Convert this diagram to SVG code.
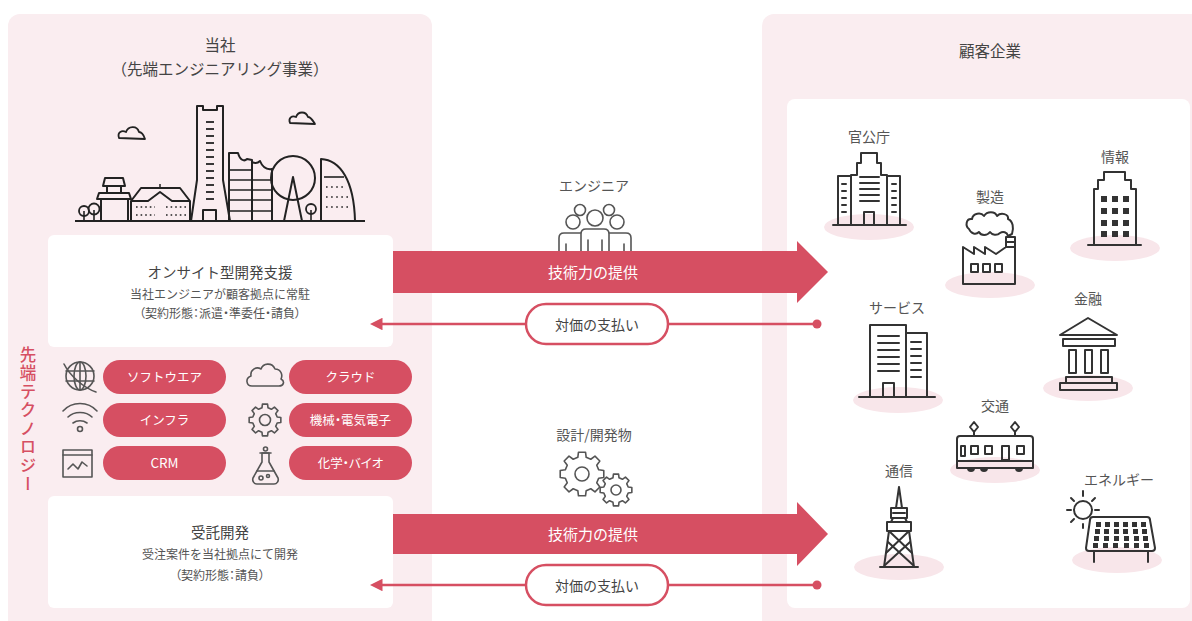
<svg xmlns="http://www.w3.org/2000/svg" xmlns:xlink="http://www.w3.org/1999/xlink" width="1192" height="621" viewBox="0 0 1192 621">
  <style>
    .jp { font-family: "Noto Sans CJK JP", "Noto Sans", sans-serif; }
    .title { font-size: 15.5px; fill: #444; text-anchor: middle; }
    .sub { font-size: 12px; fill: #555; text-anchor: middle; }
    .palt { font-feature-settings: "palt"; }
    .lbl { font-size: 14px; fill: #555; text-anchor: middle; }
    .wt { font-size: 15px; fill: #fff; text-anchor: middle; }
    .pilltx { font-size: 12.5px; fill: #fff; text-anchor: middle; }
    .pill { fill: #d64f62; }
    .ico { fill: none; stroke: #333; stroke-width: 2; stroke-linejoin: round; stroke-linecap: round; }
    .ico-g { fill: none; stroke: #555; stroke-width: 1.6; stroke-linejoin: round; stroke-linecap: round; }
    .city { fill: none; stroke: #222; stroke-width: 2; stroke-linejoin: round; }
    .blob { fill: #f8e6ea; }
    .panel { fill: #faedf0; }
    .card { fill: #ffffff; }
    .gear { vector-effect: non-scaling-stroke; }
  </style>
  <defs>
    <polygon id="gearShape" class="gear" points="76,-19 99,-16 99,16 76,19 67,40 81,59 59,81 40,67 19,76 16,99 -16,99 -19,76 -40,67 -59,81 -81,59 -67,40 -76,19 -99,16 -99,-16 -76,-19 -67,-40 -81,-59 -59,-81 -40,-67 -19,-76 -16,-99 16,-99 19,-76 40,-67 59,-81 81,-59 67,-40"/>
    <marker id="arrowL" viewBox="0 0 10 10" refX="2" refY="5" markerWidth="5" markerHeight="5" orient="auto-start-reverse" markerUnits="strokeWidth">
      <path d="M0,0 L10,5 L0,10 Z" fill="#d64f62"/>
    </marker>
  </defs>

  <rect width="1192" height="621" fill="#ffffff"/>

  <!-- company side panel -->
  <g id="company">
    <rect class="panel" x="8" y="14" width="424" height="620" rx="12"/>
    <text class="jp title" x="220" y="51">当社</text>
    <text class="jp title" x="220" y="75">（先端エンジニアリング事業）</text>

    <!-- skyline -->
    <g id="skyline" class="city">
      <line x1="75" y1="221" x2="365" y2="221"/>
      <!-- trees -->
      <circle cx="84" cy="211" r="5" stroke-width="1.8"/>
      <circle cx="94" cy="209" r="5.5" stroke-width="1.8"/>
      <line x1="84" y1="211" x2="84" y2="221" stroke-width="1.6"/>
      <line x1="94" y1="210" x2="94" y2="221" stroke-width="1.6"/>
      <!-- pagoda-style house -->
      <rect x="101" y="199" width="27" height="22"/>
      <path d="M97,199 L99,193 L129,193 L131,199 Z"/>
      <rect x="107" y="186" width="14" height="7"/>
      <path d="M103,186 L105,178 L123,178 L125,186 Z"/>
      <!-- hall with gable -->
      <path d="M131,221 L131,201 L141,188 L180,188 L190,201 L190,221"/>
      <path d="M131,201 L148,201 L160,192 L172,201 L190,201"/>
      <line x1="160" y1="188" x2="160" y2="184" stroke-width="1.5"/>
      <g stroke-width="1.6" stroke-dasharray="1.6 3">
        <line x1="136" y1="207" x2="155" y2="207"/>
        <line x1="136" y1="215" x2="155" y2="215"/>
        <line x1="166" y1="207" x2="186" y2="207"/>
        <line x1="166" y1="215" x2="186" y2="215"/>
      </g>
      <!-- landmark tower -->
      <path d="M191,221 L197,180 L197,106 L203,106 L203,110 L217,110 L217,106 L223,106 L223,180 L230,221"/>
      <g stroke-width="1.8">
        <line x1="206" y1="122" x2="214" y2="122"/>
        <line x1="206" y1="129" x2="214" y2="129"/>
        <line x1="206" y1="136" x2="214" y2="136"/>
        <line x1="206" y1="143" x2="214" y2="143"/>
        <line x1="206" y1="150" x2="214" y2="150"/>
        <line x1="206" y1="157" x2="214" y2="157"/>
        <line x1="206" y1="164" x2="214" y2="164"/>
        <line x1="206" y1="171" x2="214" y2="171"/>
        <line x1="206" y1="178" x2="214" y2="178"/>
        <line x1="206" y1="185" x2="214" y2="185"/>
        <line x1="206" y1="192" x2="214" y2="192"/>
        <line x1="206" y1="199" x2="214" y2="199"/>
      </g>
      <rect x="203" y="210" width="13" height="11"/>
      <!-- stepped block -->
      <path d="M229,221 L229,153 L238,153 C240,160 244,162 247,159 L252,160 L252,162 C256,164 258,163 260,161 C262,166 266,170 272,169 L272,221"/>
      <line x1="252" y1="162" x2="252" y2="221"/>
      <g stroke-width="1.6">
        <line x1="229" y1="170" x2="252" y2="170"/>
        <line x1="229" y1="180" x2="272" y2="180"/>
        <line x1="229" y1="190" x2="272" y2="190"/>
        <line x1="229" y1="200" x2="272" y2="200"/>
        <line x1="229" y1="211" x2="272" y2="211"/>
      </g>
      <!-- ferris wheel -->
      <circle cx="293" cy="178" r="22"/>
      <path d="M284,221 L293,177 L302,221"/>
      <!-- small tree -->
      <circle cx="311" cy="209" r="5" stroke-width="1.8"/>
      <line x1="311" y1="210" x2="311" y2="221" stroke-width="1.6"/>
      <!-- sail building -->
      <path d="M321,221 L321,159 C340,160 354,180 355,221"/>
      <line x1="324" y1="177" x2="344" y2="177" stroke-width="1.6"/>
      <g stroke-width="1.6" stroke-dasharray="1.6 3.5">
        <line x1="326" y1="187" x2="346" y2="187"/>
        <line x1="326" y1="197" x2="350" y2="197"/>
        <line x1="326" y1="207" x2="350" y2="207"/>
      </g>
      <!-- clouds -->
      <path d="M119,138 C117,132 122,130 126,132 C128,126 137,125 139,132 C142,132 144,136 145,139 Z" stroke-width="1.8"/>
      <path d="M290,123 C288,118 292,115 296,117 C298,111 306,111 308,117 C311,117 313,121 315,124 Z" stroke-width="1.8"/>
    </g>

    <!-- on-site card -->
    <g id="onsite">
      <rect class="card" x="48" y="235" width="345" height="112" rx="6"/>
      <text class="jp title" x="220" y="278" style="font-size:14.5px">オンサイト型開発支援</text>
      <text class="jp sub" x="220" y="299">当社エンジニアが顧客拠点に常駐</text>
      <text class="jp sub palt" x="220" y="318">（契約形態：派遣・準委任・請負）</text>
    </g>

    <!-- technology label -->
    <text class="jp" x="28" y="346" style="font-size:16.5px;font-weight:500;fill:#d64f62;writing-mode:vertical-rl;letter-spacing:2px">先端テクノロジー</text>

    <!-- technology pills -->
    <g id="tech-software">
      <circle class="ico-g" cx="80" cy="376" r="14"/>
      <ellipse class="ico-g" cx="80" cy="376" rx="6" ry="14"/>
      <line class="ico-g" x1="66" y1="371" x2="94" y2="371"/>
      <line class="ico-g" x1="66" y1="381" x2="94" y2="381"/>
      <line class="ico-g" x1="80" y1="362" x2="80" y2="390"/>
      <path class="ico-g" d="M64,364 C70,376 84,388 96,392"/>
      <rect class="pill" x="103" y="360" width="123" height="34" rx="17"/>
      <text class="jp pilltx" x="164.5" y="381.5">ソフトウエア</text>
    </g>
    <g id="tech-infra">
      <path class="ico-g" d="M63,411 C72,401 88,401 97,411"/>
      <path class="ico-g" d="M68,417 C74,411 86,411 92,417"/>
      <path class="ico-g" d="M73,423 C77,420 83,420 87,423"/>
      <circle class="ico-g" cx="80" cy="429" r="2.5"/>
      <rect class="pill" x="103" y="403" width="123" height="34" rx="17"/>
      <text class="jp pilltx" x="164.5" y="424.5">インフラ</text>
    </g>
    <g id="tech-crm">
      <rect class="ico-g" x="63" y="450" width="29" height="27"/>
      <line class="ico-g" x1="63" y1="455" x2="92" y2="455"/>
      <path class="ico-g" d="M68,469 L73,464 L78,469 L82,462 L87,466"/>
      <rect class="pill" x="103" y="446" width="123" height="34" rx="17"/>
      <text class="jp pilltx" x="164.5" y="467.5" style="font-size:13.5px">CRM</text>
    </g>
    <g id="tech-cloud">
      <path class="ico-g" d="M252,386 C246,386 245,378 251,376 C250,370 256,366 261,369 C263,363 272,362 275,369 C281,369 283,375 281,379 C285,381 284,386 279,386 Z"/>
      <rect class="pill" x="289" y="360" width="123" height="34" rx="17"/>
      <text class="jp pilltx" x="350.5" y="381.5">クラウド</text>
    </g>
    <g id="tech-machine">
      <use xlink:href="#gearShape" class="ico-g" transform="translate(265,420) scale(0.16)"/>
      <circle class="ico-g" cx="265" cy="420" r="5.5"/>
      <rect class="pill" x="289" y="403" width="123" height="34" rx="17"/>
      <text class="jp pilltx palt" x="350.5" y="424.5">機械・電気電子</text>
    </g>
    <g id="tech-bio">
      <path class="ico-g" d="M262,453 L262,462 L253,478 C252,481 254,484 257,484 L274,484 C277,484 279,481 278,478 L269,462 L269,453 Z"/>
      <line class="ico-g" x1="260" y1="453" x2="271" y2="453"/>
      <circle class="ico-g" cx="265.5" cy="449" r="2"/>
      <line class="ico-g" x1="257" y1="471" x2="274" y2="471"/>
      <circle class="ico-g" cx="261" cy="478" r="2"/>
      <circle class="ico-g" cx="268" cy="476" r="1.5"/>
      <rect class="pill" x="289" y="446" width="123" height="34" rx="17"/>
      <text class="jp pilltx palt" x="350.5" y="467.5">化学・バイオ</text>
    </g>

    <!-- contract development card -->
    <g id="contract">
      <rect class="card" x="48" y="496" width="345" height="112" rx="6"/>
      <text class="jp title" x="220" y="538" style="font-size:14.5px">受託開発</text>
      <text class="jp sub" x="220" y="559">受注案件を当社拠点にて開発</text>
      <text class="jp sub palt" x="220" y="580">（契約形態：請負）</text>
    </g>
  </g>

  <!-- client side panel -->
  <g id="clients">
    <rect class="panel" x="762" y="14" width="450" height="620" rx="12"/>
    <text class="jp title" x="990" y="57">顧客企業</text>
    <rect class="card" x="787" y="99" width="403" height="509" rx="8"/>

    <g id="c-government">
      <ellipse class="blob" cx="869" cy="227" rx="45" ry="13"/>
      <text class="jp lbl" x="869" y="142">官公庁</text>
      <path class="ico" d="M851,225 L851,175 L857,175 L857,163 L861,163 L861,153 L877,153 L877,163 L881,163 L881,175 L887,175 L887,225"/>
      <path class="ico" d="M851,225 L838,225 L838,176 L851,176 M887,176 L900,176 L900,225"/>
      <line class="ico" x1="833" y1="225" x2="906" y2="225"/>
      <g class="ico" stroke-width="1.8">
        <line x1="860" y1="177" x2="879" y2="177"/>
        <line x1="860" y1="183" x2="879" y2="183"/>
        <line x1="860" y1="189" x2="879" y2="189"/>
        <line x1="860" y1="195" x2="879" y2="195"/>
        <line x1="860" y1="201" x2="879" y2="201"/>
        <line x1="842" y1="184" x2="846" y2="184"/>
        <line x1="842" y1="191" x2="846" y2="191"/>
        <line x1="842" y1="198" x2="846" y2="198"/>
        <line x1="842" y1="205" x2="846" y2="205"/>
        <line x1="842" y1="212" x2="846" y2="212"/>
        <line x1="892" y1="184" x2="896" y2="184"/>
        <line x1="892" y1="191" x2="896" y2="191"/>
        <line x1="892" y1="198" x2="896" y2="198"/>
        <line x1="892" y1="205" x2="896" y2="205"/>
        <line x1="892" y1="212" x2="896" y2="212"/>
      </g>
      <rect class="ico" x="864" y="212" width="10" height="13"/>
    </g>

    <g id="c-manufacturing">
      <ellipse class="blob" cx="990" cy="285" rx="45" ry="13"/>
      <text class="jp lbl" x="990" y="202">製造</text>
      <path class="ico" d="M969,229 C965,226 966,218 972,219 C973,213 981,212 984,216 C987,211 995,211 997,216 C1001,212 1009,214 1008,219 C1013,221 1014,228 1012,234 L1008,236 C1007,232 1003,231 1000,233 C997,236 992,235 990,232 C987,236 981,236 979,232 C976,235 971,234 969,229 Z"/>
      <path class="ico" d="M963,284 L963,247 L974,254 L974,247 L985,254 L985,247 L996,254 L1006,247 L1006,237 L1015,237 L1015,284 Z"/>
      <line class="ico" x1="1006" y1="242" x2="1015" y2="242" stroke-width="1.6"/>
      <line class="ico" x1="1006" y1="247" x2="1015" y2="247" stroke-width="1.6"/>
      <rect class="ico" x="971" y="264" width="7" height="8"/>
      <rect class="ico" x="983" y="264" width="7" height="8"/>
      <rect class="ico" x="995" y="264" width="7" height="8"/>
    </g>

    <g id="c-information">
      <ellipse class="blob" cx="1115" cy="248" rx="45" ry="13"/>
      <text class="jp lbl" x="1115" y="162">情報</text>
      <path class="ico" d="M1094,245 L1094,189 L1098,189 L1098,180 L1104,180 L1104,172 L1125,172 L1125,180 L1131,180 L1131,189 L1136,189 L1136,245"/>
      <line class="ico" x1="1088" y1="245" x2="1141" y2="245"/>
      <g fill="#333">
        <rect x="1101" y="196" width="6" height="6"/><rect x="1112" y="196" width="6" height="6"/><rect x="1123" y="196" width="6" height="6"/>
        <rect x="1101" y="208" width="6" height="6"/><rect x="1112" y="208" width="6" height="6"/><rect x="1123" y="208" width="6" height="6"/>
        <rect x="1101" y="220" width="6" height="6"/><rect x="1112" y="220" width="6" height="6"/><rect x="1123" y="220" width="6" height="6"/>
        <rect x="1101" y="231" width="6" height="6"/><rect x="1112" y="231" width="6" height="6"/><rect x="1123" y="231" width="6" height="6"/>
      </g>
    </g>

    <g id="c-service">
      <ellipse class="blob" cx="898" cy="400" rx="45" ry="13"/>
      <text class="jp lbl" x="897" y="313">サービス</text>
      <rect class="ico" x="870" y="325" width="36" height="72"/>
      <path class="ico" d="M906,333 L927,333 L927,397"/>
      <line class="ico" x1="859" y1="397" x2="935" y2="397"/>
      <g class="ico" stroke-width="1.8">
        <line x1="878" y1="336" x2="899" y2="336"/>
        <line x1="878" y1="343" x2="899" y2="343"/>
        <line x1="878" y1="350" x2="899" y2="350"/>
        <line x1="878" y1="357" x2="899" y2="357"/>
        <line x1="878" y1="364" x2="899" y2="364"/>
        <line x1="878" y1="371" x2="899" y2="371"/>
        <line x1="911" y1="342" x2="921" y2="342"/>
        <line x1="911" y1="349" x2="921" y2="349"/>
        <line x1="911" y1="356" x2="921" y2="356"/>
        <line x1="911" y1="363" x2="921" y2="363"/>
        <line x1="911" y1="370" x2="921" y2="370"/>
        <line x1="911" y1="377" x2="921" y2="377"/>
      </g>
      <rect class="ico" x="883" y="383" width="11" height="14"/>
    </g>

    <g id="c-finance">
      <ellipse class="blob" cx="1088" cy="388" rx="45" ry="13"/>
      <text class="jp lbl" x="1088" y="304">金融</text>
      <path class="ico" d="M1060,335 L1088,318 L1117,335 Z"/>
      <rect class="ico" x="1063" y="339" width="52" height="7"/>
      <rect class="ico" x="1069" y="350" width="7" height="23"/>
      <rect class="ico" x="1085" y="350" width="7" height="23"/>
      <rect class="ico" x="1101" y="350" width="7" height="23"/>
      <rect class="ico" x="1066" y="377" width="46" height="6"/>
      <rect class="ico" x="1060" y="383" width="57" height="7"/>
    </g>

    <g id="c-transport">
      <ellipse class="blob" cx="995" cy="470" rx="45" ry="13"/>
      <text class="jp lbl" x="995" y="411">交通</text>
      <path class="ico" d="M974,422 L978,427 L974,432 L970,427 Z"/>
      <path class="ico" d="M1015,422 L1019,427 L1015,432 L1011,427 Z"/>
      <line class="ico" x1="974" y1="432" x2="974" y2="436"/>
      <line class="ico" x1="1015" y1="432" x2="1015" y2="436"/>
      <path class="ico" d="M957,468 L957,439 C957,437 958,436 960,436 L1030,436 C1032,436 1033,437 1033,439 L1033,468 Z"/>
      <line class="ico" x1="957" y1="461" x2="1033" y2="461" stroke-width="1.6"/>
      <rect class="ico" x="961" y="446" width="4" height="10" stroke-width="1.6"/>
      <rect class="ico" x="971" y="446" width="7" height="8" stroke-width="1.6"/>
      <rect class="ico" x="985" y="446" width="7" height="8" stroke-width="1.6"/>
      <rect class="ico" x="1002" y="446" width="7" height="14" stroke-width="1.6"/>
      <rect class="ico" x="1017" y="446" width="7" height="8" stroke-width="1.6"/>
      <g fill="#333">
        <path d="M967,468 A4,4 0 0 0 975,468 Z"/>
        <path d="M980,468 A4,4 0 0 0 988,468 Z"/>
        <path d="M1015,468 A4,4 0 0 0 1023,468 Z"/>
      </g>
    </g>

    <g id="c-telecom">
      <ellipse class="blob" cx="899" cy="567" rx="45" ry="13"/>
      <text class="jp lbl" x="899" y="476">通信</text>
      <path class="ico" d="M899,487 L896,508 M899,487 L902,508" stroke-width="1.8"/>
      <rect class="ico" x="891" y="508" width="16" height="10" stroke-width="1.8"/>
      <line class="ico" x1="893" y1="513" x2="905" y2="513" stroke-width="1.4"/>
      <path class="ico" d="M893,518 L891,522 M905,518 L907,522" stroke-width="1.8"/>
      <rect class="ico" x="887" y="522" width="24" height="9" stroke-width="1.8"/>
      <path class="ico" d="M889,531 L884,567 M909,531 L914,567" stroke-width="1.8"/>
      <path class="ico" d="M889,531 L912,553 M909,531 L886,553 M888,542 L913,565 M910,542 L885,565" stroke-width="1.4"/>
      <line class="ico" x1="880" y1="567" x2="918" y2="567"/>
    </g>

    <g id="c-energy">
      <ellipse class="blob" cx="1117" cy="560" rx="45" ry="13"/>
      <text class="jp lbl" x="1119" y="485">エネルギー</text>
      <circle class="ico" cx="1083" cy="510" r="9"/>
      <g class="ico">
        <line x1="1083" y1="491" x2="1083" y2="496"/>
        <line x1="1067" y1="510" x2="1071" y2="510"/>
        <line x1="1095" y1="510" x2="1099" y2="510"/>
        <line x1="1071" y1="498" x2="1074" y2="501"/>
        <line x1="1095" y1="498" x2="1092" y2="501"/>
        <line x1="1071" y1="522" x2="1074" y2="519"/>
        <line x1="1083" y1="524" x2="1083" y2="528"/>
      </g>
      <path class="ico" d="M1093,517 L1147,517 C1149,517 1150,518 1150,520 L1155,548 C1155,550 1154,551 1152,551 L1089,551 C1087,551 1086,550 1086,548 L1090,520 C1090,518 1091,517 1093,517 Z" fill="#fff"/>
      <path class="ico" d="M1094,551 L1094,562 M1148,551 L1148,562"/>
      <g fill="#333">
        <rect x="1096" y="522" width="5" height="5"/><rect x="1105" y="522" width="5" height="5"/><rect x="1114" y="522" width="5" height="5"/><rect x="1123" y="522" width="5" height="5"/><rect x="1132" y="522" width="5" height="5"/><rect x="1141" y="522" width="5" height="5"/>
        <rect x="1095" y="529" width="5" height="5"/><rect x="1104" y="529" width="5" height="5"/><rect x="1114" y="529" width="5" height="5"/><rect x="1123" y="529" width="5" height="5"/><rect x="1133" y="529" width="5" height="5"/><rect x="1142" y="529" width="5" height="5"/>
        <rect x="1094" y="536" width="5" height="5"/><rect x="1104" y="536" width="5" height="5"/><rect x="1114" y="536" width="5" height="5"/><rect x="1124" y="536" width="5" height="5"/><rect x="1134" y="536" width="5" height="5"/><rect x="1143" y="536" width="5" height="5"/>
        <rect x="1093" y="543" width="5" height="5"/><rect x="1103" y="543" width="5" height="5"/><rect x="1113" y="543" width="5" height="5"/><rect x="1124" y="543" width="5" height="5"/><rect x="1134" y="543" width="5" height="5"/><rect x="1144" y="543" width="5" height="5"/>
      </g>
    </g>
  </g>

  <!-- engineer icon -->
  <g id="engineers">
    <text class="jp lbl" x="594" y="191">エンジニア</text>
    <g class="ico-g" stroke="#444" stroke-width="2">
      <circle cx="580" cy="210" r="5.5"/>
      <circle cx="609" cy="210" r="5.5"/>
      <circle cx="573" cy="222" r="7" fill="#fff"/>
      <circle cx="595" cy="218" r="8" fill="#fff"/>
      <circle cx="617" cy="222" r="7" fill="#fff"/>
      <path d="M559,251 L559,238 C559,235 561,233 564,233 L583,233"/>
      <line x1="566" y1="244" x2="566" y2="251"/>
      <path d="M631,251 L631,238 C631,235 629,233 626,233 L607,233"/>
      <line x1="624" y1="244" x2="624" y2="251"/>
      <path d="M581,251 L581,234 C581,231 583,229 586,229 L604,229 C607,229 609,231 609,234 L609,251" fill="#fff"/>
      <line x1="588" y1="240" x2="588" y2="251"/>
      <line x1="602" y1="240" x2="602" y2="251"/>
    </g>
  </g>

  <!-- deliverables icon -->
  <g id="deliverables">
    <text class="jp lbl" x="594" y="440">設計/開発物</text>
    <use xlink:href="#gearShape" class="ico-g" stroke="#444" stroke-width="2" transform="translate(582,474) scale(0.22)"/>
    <circle class="ico-g" cx="582" cy="474" r="7" stroke="#444" stroke-width="2"/>
    <use xlink:href="#gearShape" class="ico-g" stroke="#444" stroke-width="2" fill="#fff" transform="translate(616,490) scale(0.16)"/>
    <circle class="ico-g" cx="616" cy="490" r="5" stroke="#444" stroke-width="2"/>
  </g>

  <!-- connectors -->
  <g id="connectors">
    <path d="M393,251 L797,251 L797,241 L828,272 L797,303 L797,293 L393,293 Z" fill="#d64f62"/>
    <text class="jp wt" x="593" y="278">技術力の提供</text>
    <line x1="380" y1="324" x2="817" y2="324" stroke="#d64f62" stroke-width="2.5" marker-start="url(#arrowL)"/>
    <circle cx="817" cy="324" r="4.5" fill="#d64f62"/>
    <rect x="526" y="304" width="142" height="40" rx="20" fill="#fff" stroke="#d64f62" stroke-width="2.5"/>
    <text class="jp" x="597" y="330" style="font-size:14px;fill:#444;text-anchor:middle">対価の支払い</text>

    <path d="M393,514 L797,514 L797,502 L828,534 L797,566 L797,554 L393,554 Z" fill="#d64f62"/>
    <text class="jp wt" x="593" y="540">技術力の提供</text>
    <line x1="380" y1="585" x2="817" y2="585" stroke="#d64f62" stroke-width="2.5" marker-start="url(#arrowL)"/>
    <circle cx="817" cy="585" r="4.5" fill="#d64f62"/>
    <rect x="526" y="565" width="142" height="40" rx="20" fill="#fff" stroke="#d64f62" stroke-width="2.5"/>
    <text class="jp" x="597" y="591" style="font-size:14px;fill:#444;text-anchor:middle">対価の支払い</text>
  </g>
</svg>
